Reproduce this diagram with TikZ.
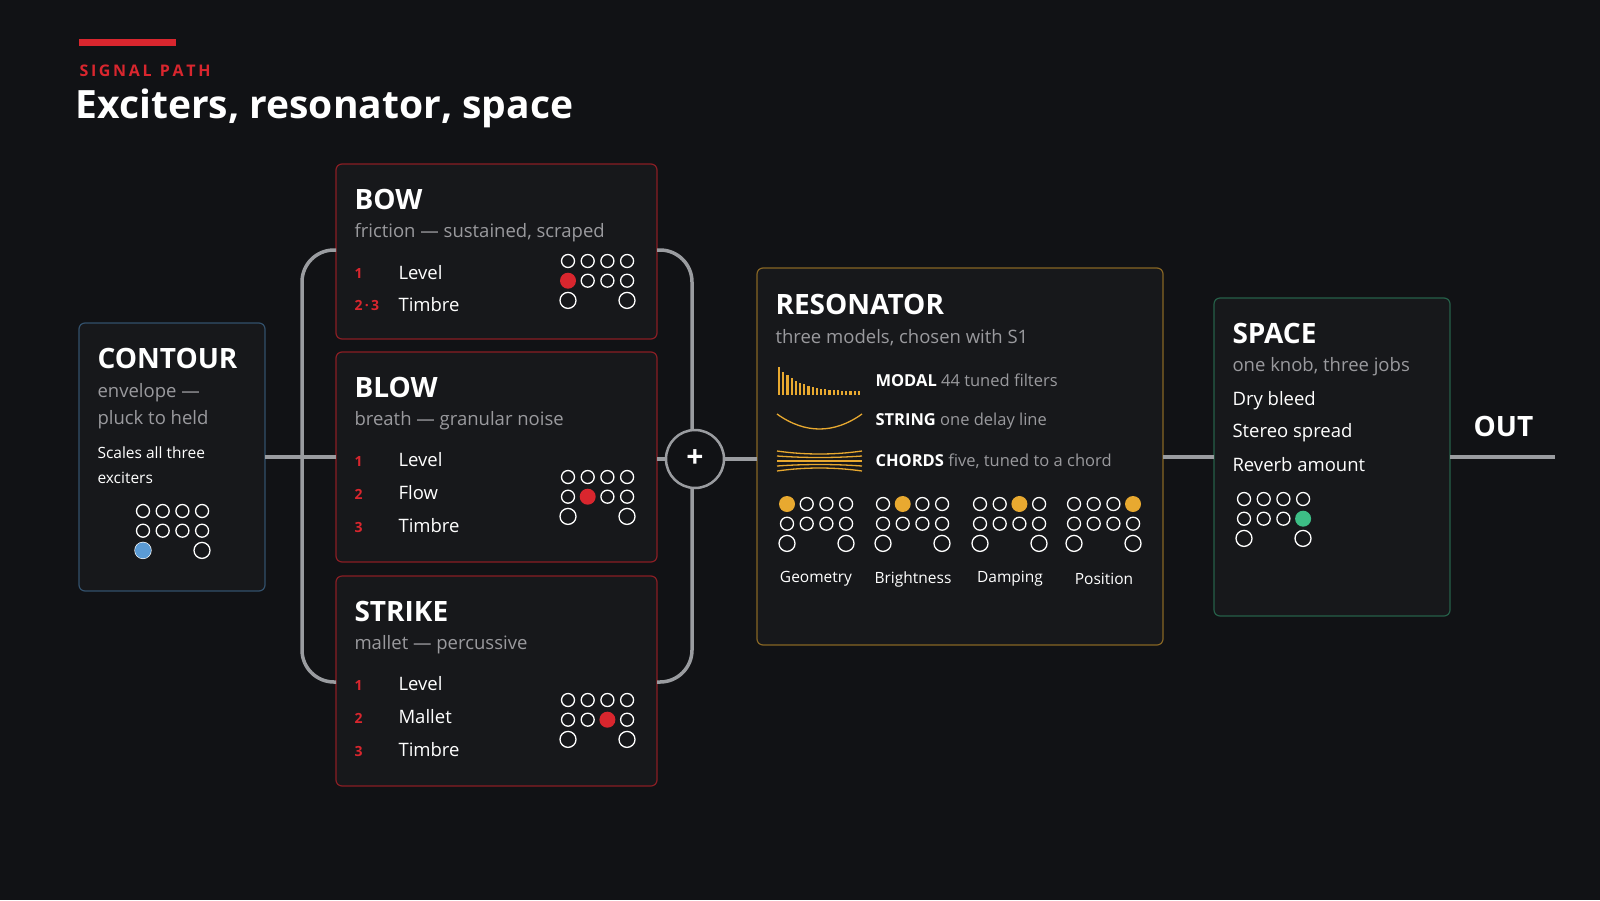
\documentclass[tikz,border=0pt]{standalone}
\usepackage{fontspec}
\setmainfont{Open Sans}
\usetikzlibrary{positioning}
\definecolor{bg}{HTML}{111215}
\definecolor{panel}{HTML}{17181B}
\definecolor{accent}{HTML}{D9262E}
\definecolor{gold}{HTML}{E8A930}
\definecolor{sub}{HTML}{9A9A9E}
\definecolor{rail}{HTML}{9A9CA0}
\definecolor{knobblue}{HTML}{5B9BD5}
\definecolor{knobgreen}{HTML}{3DBE86}
\tikzset{
  panel/.style={draw, fill=panel, rounded corners=6pt, line width=1.2pt},
  head/.style={anchor=west, text=white, font=\fontsize{28}{30}\selectfont\bfseries},
  subline/.style={anchor=west, text=sub, font=\fontsize{18.5}{20}\selectfont},
  item/.style={anchor=west, text=white, font=\fontsize{18.5}{20}\selectfont},
  num/.style={anchor=west, text=accent, font=\fontsize{14}{16}\selectfont\bfseries},
  wire/.style={draw=rail, line width=3.5pt},
  knob/.style={draw=white, line width=1.3pt}
}
% knob grid: x, y of top-left knob, filled x, filled y, fill colour
\newcommand\knobgrid[5]{%
  \foreach \i in {0,1,2,3}{\foreach \j in {0,1}{
    \draw[knob] (#1+19.7*\i,#2+19.7*\j) circle (6.5);}}
  \draw[knob] (#1,#2+39.4) circle (8);
  \draw[knob] (#1+59,#2+39.4) circle (8);
  \fill[#5] (#3,#4) circle (8);}
\begin{document}
\begin{tikzpicture}[x=1pt,y=-1pt]
  \fill[bg] (0,0) rectangle (1600,900);
  \useasboundingbox (0,0) rectangle (1600,900);
  % Header
  \fill[accent] (79,39) rectangle (176,46);
  \node[anchor=west, text=accent, font=\fontsize{16}{18}\selectfont\bfseries] (kicker) at (76,71) {S\,I\,G\,N\,A\,L\ \ P\,A\,T\,H};
  \node[anchor=west, text=white, font=\fontsize{39}{42}\selectfont\bfseries] (title) at (72,108) {Exciters, resonator, space};

  % Boxes
  \draw[panel, draw=knobblue!45!bg] (79,323) rectangle (265,591);
  \draw[panel, draw=accent!60!bg] (336,164) rectangle (657,339);
  \draw[panel, draw=accent!60!bg] (336,352) rectangle (657,562);
  \draw[panel, draw=accent!60!bg] (336,576) rectangle (657,786);
  \draw[panel, draw=gold!55!bg] (757,268) rectangle (1163,645);
  \draw[panel, draw=knobgreen!45!bg] (1214,298) rectangle (1450,616);
  \coordinate (contourE) at (265,457);
  \coordinate (bowW) at (336,250);
  \coordinate (strikeW) at (336,682);
  \coordinate (blowW) at (336,457);
  \coordinate (bowE) at (657,250);
  \coordinate (strikeE) at (657,682);
  \coordinate (blowE) at (657,459);
  \coordinate (resW) at (757,459);
  \coordinate (resE) at (1163,457);
  \coordinate (spaceW) at (1214,457);
  \coordinate (spaceE) at (1450,457);
  \coordinate (outE) at (1555,457);

  % Rails
  \draw[wire, rounded corners=32pt] (bowW) -- (302,250) -- (302,682) -- (strikeW);
  \draw[wire, rounded corners=32pt] (bowE) -- (692,250) -- (692,682) -- (strikeE);
  \draw[wire] (contourE) -- (blowW);
  \node[circle, draw=rail, line width=2.5pt, fill=bg, minimum size=58pt, inner sep=0pt,
    text=white, font=\fontsize{30}{30}\selectfont\bfseries] (mix) at (695,459) {+};
  \draw[wire] (blowE) -- (mix);
  \draw[wire] (mix) -- (resW);
  \draw[wire] (resE) -- (spaceW);
  \draw[wire] (spaceE) -- (outE);
  \node[anchor=west, text=white, font=\fontsize{28}{30}\selectfont\bfseries] (out) at (1470,426) {OUT};

  % Contour
  \node[head] (contour) at (94,358) {CONTOUR};
  \node[subline] (envA) at (94,393) {envelope —};
  \node[subline] (envB) at (94,420) {pluck to held};
  \node[item, font=\fontsize{15.5}{17}\selectfont] (scaleA) at (94,453) {Scales all three};
  \node[item, font=\fontsize{15.5}{17}\selectfont] (scaleB) at (94,478) {exciters};
  \knobgrid{143}{511}{143}{550.4}{knobblue}

  % Bow
  \node[head] (bow) at (351,199) {BOW};
  \node[subline] (bowsub) at (351,233) {friction — sustained, scraped};
  \node[num] at (351,273) {1};
  \node[num] at (351,305) {2\,·\,3};
  \node[item] at (395,273) {Level};
  \node[item] at (395,305) {Timbre};
  \knobgrid{568}{261}{568}{280.7}{accent}

  % Blow
  \node[head] (blow) at (351,387) {BLOW};
  \node[subline] (blowsub) at (351,421) {breath — granular noise};
  \node[num] at (351,461) {1};
  \node[num] at (351,494) {2};
  \node[num] at (351,527) {3};
  \node[item] at (395,460) {Level};
  \node[item] at (395,493) {Flow};
  \node[item] at (395,526) {Timbre};
  \knobgrid{568}{477}{587.7}{496.7}{accent}

  % Strike
  \node[head] (strike) at (351,611) {STRIKE};
  \node[subline] (strikesub) at (351,645) {mallet — percussive};
  \node[num] at (351,685) {1};
  \node[num] at (351,718) {2};
  \node[num] at (351,751) {3};
  \node[item] at (395,684) {Level};
  \node[item] at (395,717) {Mallet};
  \node[item] at (395,750) {Timbre};
  \knobgrid{568}{700}{607.4}{719.7}{accent}

  % Resonator
  \node[head] (res) at (772,304) {RESONATOR};
  \node[subline] (ressub) at (772,338) {three models, chosen with S1};
  \foreach \k in {0,...,19}
    \fill[gold] (778+4.2*\k,395) rectangle ++(2.2,{-3-25*exp(-\k/5)});
  \draw[gold, line width=1.3pt] (777,414) .. controls (805,434) and (834,434) .. (862,414);
  \foreach \d in {-10,-5,0,5,10}
    \draw[gold, line width=1.3pt] (777,461+\d) .. controls (805,461+0.6*\d) and (834,461+0.6*\d) .. (862,461+\d);
  \node[anchor=west, font=\fontsize{16.5}{18}\selectfont] (modal) at (872,380) {\textcolor{white}{\bfseries MODAL} \textcolor{sub}{44 tuned filters}};
  \node[anchor=west, font=\fontsize{16.5}{18}\selectfont] (string) at (872,421) {\textcolor{white}{\bfseries STRING} \textcolor{sub}{one delay line}};
  \node[anchor=west, font=\fontsize{16.5}{18}\selectfont] (chords) at (872,461) {\textcolor{white}{\bfseries CHORDS} \textcolor{sub}{five, tuned to a chord}};
  \knobgrid{787}{504}{787}{504}{gold}
  \knobgrid{883}{504}{902.7}{504}{gold}
  \knobgrid{980}{504}{1019.4}{504}{gold}
  \knobgrid{1074}{504}{1133}{504}{gold}
  \node[text=white, font=\fontsize{15.5}{17}\selectfont] (geo) at (816,579) {Geometry};
  \node[text=white, font=\fontsize{15.5}{17}\selectfont] (bright) at (913,579) {Brightness};
  \node[text=white, font=\fontsize{15.5}{17}\selectfont] (damp) at (1010,579) {Damping};
  \node[text=white, font=\fontsize{15.5}{17}\selectfont] (pos) at (1104,579) {Position};

  % Space
  \node[head] (space) at (1229,333) {SPACE};
  \node[subline] (spacesub) at (1229,367) {one knob, three jobs};
  \node[item] at (1229,401) {Dry bleed};
  \node[item] at (1229,433) {Stereo spread};
  \node[item] at (1229,465) {Reverb amount};
  \knobgrid{1244}{499}{1303.1}{518.7}{knobgreen}
\end{tikzpicture}
\end{document}
